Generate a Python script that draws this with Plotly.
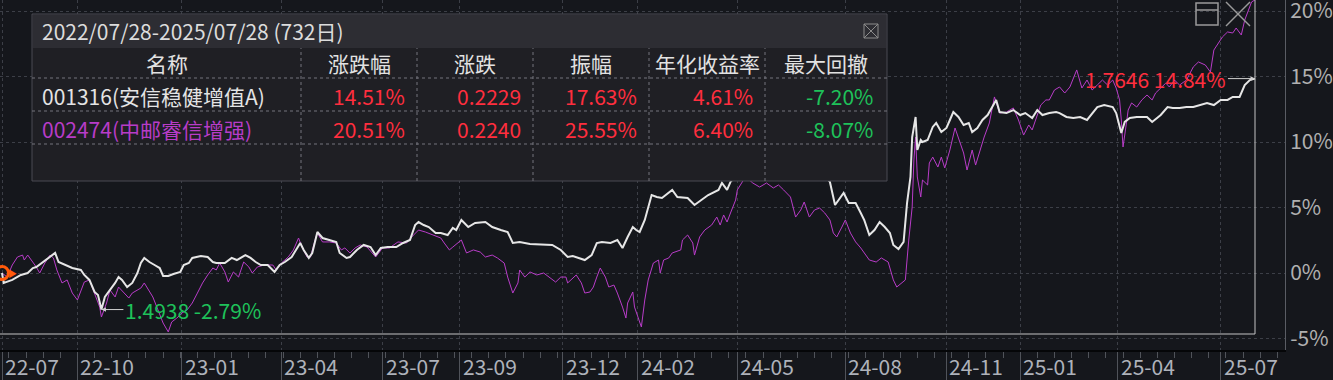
import plotly.graph_objects as go

# ---------------- data (trading-day index, % change from 2022/07/28) ----------------
white_days = [0, 1, 6, 11, 15, 18, 20, 24, 28, 31, 33, 37, 41, 46, 48, 51, 54, 56, 58, 60, 63, 66, 68, 70, 73, 76, 79, 81, 83, 86, 89, 92, 94, 97, 100, 104, 106, 109, 111, 116, 120, 123, 125, 130, 134, 137, 142, 145, 148, 151, 155, 159, 162, 165, 169, 172, 174, 176, 179, 181, 183, 184, 187, 191, 195, 197, 201, 203, 207, 211, 215, 218, 221, 225, 230, 234, 238, 241, 243, 246, 249, 253, 256, 260, 263, 265, 268, 272, 276, 282, 286, 291, 295, 298, 302, 308, 316, 321, 326, 330, 333, 336, 340, 344, 347, 350, 355, 359, 362, 365, 368, 370, 372, 375, 379, 382, 385, 391, 394, 400, 404, 408, 412, 418, 420, 423, 425, 428, 433, 439, 445, 451, 457, 463, 468, 474, 480, 483, 486, 489, 491, 494, 498, 501, 503, 506, 509, 512, 515, 518, 520, 523, 526, 528, 530, 531, 533, 534, 536, 537, 540, 543, 545, 548, 551, 553, 555, 558, 561, 564, 566, 569, 572, 575, 578, 580, 582, 586, 590, 594, 597, 601, 604, 607, 611, 615, 617, 621, 625, 629, 633, 636, 639, 643, 648, 650, 653, 655, 658, 662, 668, 671, 676, 680, 683, 687, 691, 695, 699, 703, 707, 711, 715, 718, 722, 725, 728, 731]
white_pct = [0.00, -0.76, -0.53, -0.15, 0.00, 0.38, 0.46, 0.84, 1.22, 1.53, 0.84, 0.61, 0.38, 0.23, -0.15, -0.53, -1.45, -1.68, -2.79, -1.83, -1.30, -0.76, -0.31, -0.53, -1.07, -0.76, 0.00, 0.76, 1.15, 0.84, 0.61, 0.38, -0.23, -0.23, -0.08, 0.08, 0.61, 0.76, 1.15, 1.30, 1.22, 0.84, 0.76, 0.76, 1.15, 0.99, 1.37, 1.15, 0.84, 0.61, 0.61, 0.08, 0.61, 0.84, 1.22, 1.91, 2.29, 1.76, 1.15, 1.53, 2.52, 3.13, 2.67, 2.52, 2.37, 1.53, 1.15, 1.22, 1.76, 2.14, 1.98, 1.37, 1.91, 1.98, 1.98, 2.29, 2.52, 3.66, 3.89, 3.66, 3.51, 3.05, 3.05, 2.90, 3.44, 3.28, 4.05, 3.51, 3.82, 3.89, 3.51, 3.28, 3.13, 2.29, 2.37, 2.21, 2.14, 2.14, 1.76, 1.22, 1.30, 1.15, 0.99, 1.37, 2.29, 2.37, 2.29, 2.52, 1.91, 2.75, 3.51, 3.28, 3.13, 4.05, 5.95, 5.80, 5.73, 6.34, 5.80, 5.73, 5.19, 5.57, 5.95, 6.34, 6.87, 6.34, 6.95, 7.40, 7.71, 8.09, 7.86, 8.24, 7.86, 8.02, 7.56, 7.71, 7.40, 6.95, 5.19, 5.73, 6.11, 5.34, 5.34, 4.58, 4.05, 2.90, 3.28, 3.89, 3.51, 3.05, 2.14, 1.83, 2.37, 5.34, 7.33, 10.38, 11.91, 9.39, 10.15, 10.00, 10.15, 11.15, 11.45, 10.76, 11.07, 11.68, 12.29, 11.91, 11.30, 11.45, 10.76, 11.07, 11.68, 12.06, 12.82, 13.21, 12.29, 12.21, 12.44, 12.06, 12.21, 11.83, 12.44, 12.06, 12.21, 12.29, 12.21, 11.91, 11.83, 11.91, 11.68, 12.21, 12.67, 12.82, 12.67, 12.21, 10.69, 11.53, 11.83, 11.91, 11.91, 11.53, 12.06, 12.67, 12.60, 12.60, 12.67, 12.67, 12.82, 12.98, 12.82, 13.21, 13.21, 13.44, 13.44, 14.35, 14.73, 14.84]

purple_days = [0, 3, 6, 9, 12, 13, 15, 18, 20, 22, 25, 28, 30, 32, 35, 38, 41, 44, 47, 48, 51, 54, 57, 58, 61, 63, 66, 68, 71, 74, 76, 81, 83, 85, 88, 91, 94, 97, 99, 102, 105, 108, 111, 114, 117, 120, 123, 125, 127, 130, 132, 135, 138, 141, 144, 146, 149, 153, 158, 160, 163, 167, 170, 173, 175, 178, 180, 183, 184, 187, 191, 195, 198, 200, 203, 206, 209, 213, 218, 222, 226, 231, 236, 239, 243, 247, 251, 256, 258, 261, 263, 266, 268, 271, 275, 279, 282, 286, 289, 293, 295, 298, 301, 302, 305, 308, 312, 316, 320, 323, 326, 329, 330, 335, 338, 340, 343, 345, 347, 349, 352, 354, 357, 359, 362, 364, 365, 368, 369, 371, 373, 375, 377, 380, 383, 384, 386, 389, 391, 396, 397, 400, 403, 404, 407, 410, 414, 417, 419, 421, 423, 425, 428, 429, 432, 434, 436, 438, 442, 446, 450, 453, 456, 460, 463, 466, 468, 471, 474, 477, 480, 483, 485, 487, 490, 492, 495, 498, 501, 503, 506, 510, 513, 517, 520, 522, 525, 527, 529, 531, 532, 533, 534, 536, 537, 540, 541, 543, 546, 548, 550, 553, 556, 558, 561, 563, 566, 568, 571, 573, 576, 579, 582, 586, 590, 593, 596, 599, 601, 606, 609, 611, 614, 617, 620, 623, 627, 630, 633, 636, 639, 642, 645, 648, 650, 652, 653, 654, 656, 657, 659, 662, 665, 668, 671, 673, 676, 679, 681, 684, 687, 691, 695, 698, 702, 705, 707, 709, 712, 715, 718, 720, 723, 725, 727, 729, 731]
purple_pct = [0.00, -0.31, 0.61, 1.22, 1.37, 0.99, 1.37, 0.84, 0.46, 0.00, 0.76, 1.37, 1.15, 0.23, -0.76, -0.53, -1.53, -2.06, -1.07, -0.69, -0.53, -1.53, -2.60, -3.36, -2.29, -1.30, -1.83, -1.07, -1.53, -1.91, -1.53, -1.15, -0.76, -1.15, -1.83, -2.82, -3.82, -4.50, -3.74, -3.44, -3.05, -2.82, -2.29, -1.53, -0.76, -0.15, 0.38, 0.23, 0.76, 0.08, -0.69, 0.08, -0.31, 0.84, 0.46, 0.00, 0.46, 0.61, 0.61, 0.23, 0.76, 1.22, 1.76, 2.67, 1.98, 1.22, 1.22, 2.67, 3.05, 2.37, 2.37, 2.29, 1.76, 1.91, 1.53, 1.91, 2.14, 1.98, 1.22, 1.91, 1.91, 2.37, 2.29, 2.75, 3.28, 3.13, 2.90, 2.67, 2.29, 1.76, 1.98, 2.29, 2.52, 1.53, 1.76, 1.60, 1.22, 1.37, 1.15, 0.76, -0.31, -1.53, -0.76, 0.23, -0.31, 0.08, -0.15, 0.00, -0.38, -0.69, -0.31, -0.31, -0.76, -0.15, -0.76, -1.53, -1.45, -1.07, -0.31, 0.38, -0.31, -1.07, -0.92, -1.53, -2.60, -3.44, -2.29, -1.45, -2.60, -3.36, -4.12, -2.06, -0.53, 0.76, 0.99, 0.00, 0.99, 1.15, 1.53, 1.76, 2.52, 2.90, 2.29, 1.37, 2.75, 3.28, 3.66, 4.27, 3.66, 4.43, 3.89, 4.58, 5.57, 6.34, 6.95, 7.40, 7.10, 6.87, 6.56, 6.87, 6.49, 6.72, 6.34, 5.80, 4.27, 4.81, 5.42, 4.27, 4.81, 4.96, 4.58, 4.05, 3.05, 2.75, 3.51, 4.05, 3.05, 2.37, 1.91, 1.53, 0.99, 0.84, 1.15, 0.84, -0.53, -1.07, -0.76, -0.53, 2.52, 5.04, 8.63, 10.38, 7.33, 5.80, 7.10, 6.72, 8.40, 8.85, 8.09, 8.85, 8.02, 9.39, 11.07, 10.31, 9.16, 7.86, 9.39, 8.24, 9.62, 10.38, 11.45, 13.44, 12.21, 12.29, 12.60, 11.68, 10.53, 11.30, 10.92, 12.82, 13.21, 13.21, 13.97, 14.20, 13.74, 14.20, 15.50, 14.12, 14.73, 13.97, 14.35, 14.73, 14.35, 14.73, 14.12, 13.21, 11.68, 9.62, 11.45, 12.44, 12.98, 12.67, 13.21, 13.59, 13.21, 13.74, 14.12, 14.50, 14.20, 14.73, 14.35, 14.73, 15.73, 16.11, 15.88, 15.34, 17.02, 17.40, 18.02, 18.40, 18.32, 18.70, 18.17, 19.31, 20.08, 20.69, 20.85]

tick_days = [0, 44, 105, 163, 222, 267, 327, 371, 429, 492, 551, 594, 651, 711]
tick_labels = ["22-07", "22-10", "23-01", "23-04", "23-07", "23-09", "23-12",
               "24-02", "24-05", "24-08", "24-11", "25-01", "25-04", "25-07"]
y_ticks = [-5, 0, 5, 10, 15, 20]
y_labels = ["-5%", "0%", "5%", "10%", "15%", "20%"]

period_text = "2022/07/28-2025/07/28 (732日)"
columns = ["名称", "涨跌幅", "涨跌", "振幅", "年化收益率", "最大回撤"]
fund_names = ["001316(安信稳健增值A)", "002474(中邮睿信增强)"]
chg_pct = ["14.51%", "20.51%"]
chg_val = ["0.2229", "0.2240"]
amplitude = ["17.63%", "25.55%"]
annual_ret = ["4.61%", "6.40%"]
max_dd = ["-7.20%", "-8.07%"]
min_label = "1.4938 -2.79%"
last_label = "1.7646 14.84%"

# ---------------- styling ----------------
W, H = 1333, 380
PW, PH = 1285, 350
BG = "#15171c"
WHITE = "#e6e6e6"
PURPLE = "#b83cc8"
RED = "#ff2e3e"
GREEN = "#1ec25a"
FONT = "Noto Sans CJK SC"


def fx(p):
    return p / PW


def fy(p):
    return 1 - p / PH


fig = go.Figure()
fig.add_trace(go.Scatter(x=purple_days, y=purple_pct, mode="lines",
                         line=dict(color=PURPLE, width=1), hoverinfo="skip"))
fig.add_trace(go.Scatter(x=white_days, y=white_pct, mode="lines",
                         line=dict(color=WHITE, width=2), hoverinfo="skip"))
fig.add_trace(go.Scatter(x=[white_days[0]], y=[white_pct[0]], mode="markers",
                         marker=dict(symbol="circle-open", size=13, color="#ff5a0a",
                                     line=dict(width=3, color="#ff5a0a")),
                         hoverinfo="skip"))

shapes = []
ann = []

# frame lines (last day marker and bottom box)
last_day = white_days[-1]
shapes.append(dict(type="line", xref="x", yref="paper", x0=last_day, x1=last_day,
                   y0=fy(334), y1=1, line=dict(color="#c4c4c4", width=1), layer="above"))
shapes.append(dict(type="line", xref="paper", yref="paper", x0=0, x1=fx(1255),
                   y0=fy(334), y1=fy(334), line=dict(color="#c4c4c4", width=1), layer="above"))

# start marker arrow
ann.append(dict(x=white_days[0], y=white_pct[0], xref="x", yref="y", text="▶",
                showarrow=False, xshift=10, font=dict(size=9, color="#ff5a0a")))

# min annotation
imin = min(range(len(white_pct)), key=lambda i: white_pct[i])
ann.append(dict(x=white_days[imin], y=white_pct[imin], xref="x", yref="y",
                text=min_label, showarrow=True, ax=22, ay=0, xanchor="left",
                arrowhead=2, arrowsize=0.9, arrowwidth=1, arrowcolor="#d0d0d0",
                standoff=0, font=dict(family=FONT, size=21, color=GREEN)))
# last annotation
ann.append(dict(x=white_days[-1], y=white_pct[-1], xref="x", yref="y",
                text=last_label, showarrow=True, ax=-27, ay=0, xanchor="right",
                arrowhead=2, arrowsize=0.9, arrowwidth=1, arrowcolor="#d0d0d0",
                standoff=0, font=dict(family=FONT, size=21, color=RED)))

# x tick labels (right of tick line)
for d, lab in zip(tick_days, tick_labels):
    ann.append(dict(x=d, y=fy(366), xref="x", yref="paper", text=lab, showarrow=False,
                    xanchor="left", yanchor="middle", xshift=1,
                    font=dict(family=FONT, size=21, color="#aeb2ba")))

# ---------------- statistics table ----------------
TX0, TX1, TY0, TY1 = 32, 887, 14, 181
shapes.append(dict(type="rect", xref="paper", yref="paper", x0=fx(TX0), x1=fx(TX1),
                   y0=fy(TY1), y1=fy(TY0), fillcolor="#1f1f24",
                   line=dict(color="#4b4b52", width=1), layer="above"))
shapes.append(dict(type="rect", xref="paper", yref="paper", x0=fx(TX0 + 1), x1=fx(TX1 - 1),
                   y0=fy(48), y1=fy(TY0 + 1), fillcolor="#2d2d33",
                   line=dict(width=0), layer="above"))
for yy in [78, 111, 144]:
    shapes.append(dict(type="line", xref="paper", yref="paper", x0=fx(TX0), x1=fx(TX1),
                       y0=fy(yy), y1=fy(yy), line=dict(color="#75757c", width=1, dash="dot"),
                       layer="above"))
col_edges = [TX0, 301, 417, 533, 649, 765, TX1]
for xx in col_edges[1:-1]:
    shapes.append(dict(type="line", xref="paper", yref="paper", x0=fx(xx), x1=fx(xx),
                       y0=fy(TY1), y1=fy(48), line=dict(color="#75757c", width=1, dash="dot"),
                       layer="above"))
# close icon in table header
shapes.append(dict(type="rect", xref="paper", yref="paper", x0=fx(864), x1=fx(878),
                   y0=fy(38), y1=fy(24), line=dict(color="#8c8c8c", width=1), layer="above"))
shapes.append(dict(type="line", xref="paper", yref="paper", x0=fx(864), x1=fx(878),
                   y0=fy(24), y1=fy(38), line=dict(color="#8c8c8c", width=1), layer="above"))
shapes.append(dict(type="line", xref="paper", yref="paper", x0=fx(864), x1=fx(878),
                   y0=fy(38), y1=fy(24), line=dict(color="#8c8c8c", width=1), layer="above"))

# top-right window icons
shapes.append(dict(type="rect", xref="paper", yref="paper", x0=fx(1196), x1=fx(1218),
                   y0=fy(25), y1=fy(3), line=dict(color="#9a9a9a", width=1.5), layer="above"))
shapes.append(dict(type="line", xref="paper", yref="paper", x0=fx(1196), x1=fx(1218),
                   y0=fy(10), y1=fy(10), line=dict(color="#9a9a9a", width=1.5), layer="above"))
shapes.append(dict(type="line", xref="paper", yref="paper", x0=fx(1226), x1=fx(1250),
                   y0=fy(2), y1=fy(26), line=dict(color="#9a9a9a", width=1.5), layer="above"))
shapes.append(dict(type="line", xref="paper", yref="paper", x0=fx(1226), x1=fx(1250),
                   y0=fy(26), y1=fy(2), line=dict(color="#9a9a9a", width=1.5), layer="above"))

ann.append(dict(x=fx(40), y=fy(31), xref="paper", yref="paper", text=period_text,
                showarrow=False, xanchor="left", yanchor="middle",
                font=dict(family=FONT, size=21, color="#dcdcdc")))
for i, c in enumerate(columns):
    cx = (col_edges[i] + col_edges[i + 1]) / 2
    ann.append(dict(x=fx(cx), y=fy(63), xref="paper", yref="paper", text=c,
                    showarrow=False, xanchor="center", yanchor="middle",
                    font=dict(family=FONT, size=21, color="#e2e2e2")))
row_y = [96, 129]
name_colors = ["#e4e4e4", PURPLE]
value_cols = [chg_pct, chg_val, amplitude, annual_ret, max_dd]
value_colors = [RED, RED, RED, RED, GREEN]
for r in range(2):
    ann.append(dict(x=fx(40), y=fy(row_y[r]), xref="paper", yref="paper", text=fund_names[r],
                    showarrow=False, xanchor="left", yanchor="middle",
                    font=dict(family=FONT, size=21, color=name_colors[r])))
    for j, vals in enumerate(value_cols):
        rx = col_edges[j + 2] - 10 if j < 4 else TX1 - 12
        ann.append(dict(x=fx(rx), y=fy(row_y[r]), xref="paper", yref="paper", text=vals[r],
                        showarrow=False, xanchor="right", yanchor="middle",
                        font=dict(family=FONT, size=21, color=value_colors[j])))

# axis ranges from pixel geometry: day 0 at px 2, day 731 at px 1255
px_per_day = (1255 - 2) / last_day
x0 = -2 / px_per_day
x1 = x0 + PW / px_per_day
y_per_px = 5 / 65.5
y_top = 273 * y_per_px
y_bot = -(PH - 273) * y_per_px

fig.update_layout(
    width=W, height=H,
    margin=dict(l=0, r=W - PW, t=0, b=H - PH, pad=0),
    paper_bgcolor=BG, plot_bgcolor=BG,
    showlegend=False,
    shapes=shapes, annotations=ann,
    font=dict(family=FONT),
    xaxis=dict(range=[x0, x1], tickmode="array", tickvals=tick_days, ticktext=tick_labels,
               showticklabels=False, ticks="outside", ticklen=30, tickcolor="#50535a",
               tickwidth=1,
               minor=dict(tickmode="linear", tick0=4, dtick=10, ticks="outside", ticklen=6,
                          tickcolor="#50535a", showgrid=False),
               showgrid=True, gridcolor="#3c3f47", griddash="dot", gridwidth=1,
               showline=True, linecolor="#050608", linewidth=2, zeroline=False,
               fixedrange=True),
    yaxis=dict(range=[y_bot, y_top], side="right", tickmode="array", tickvals=y_ticks,
               ticktext=y_labels, ticks="", ticklabeloverflow="allow",
               tickfont=dict(family=FONT, size=21, color="#b0b0b0"),
               showgrid=True, gridcolor="#3c3f47", griddash="dot", gridwidth=1,
               showline=True, linecolor="#5a5d64", linewidth=1, zeroline=False,
               automargin=False, fixedrange=True),
)

fig.write_html("out.html")
